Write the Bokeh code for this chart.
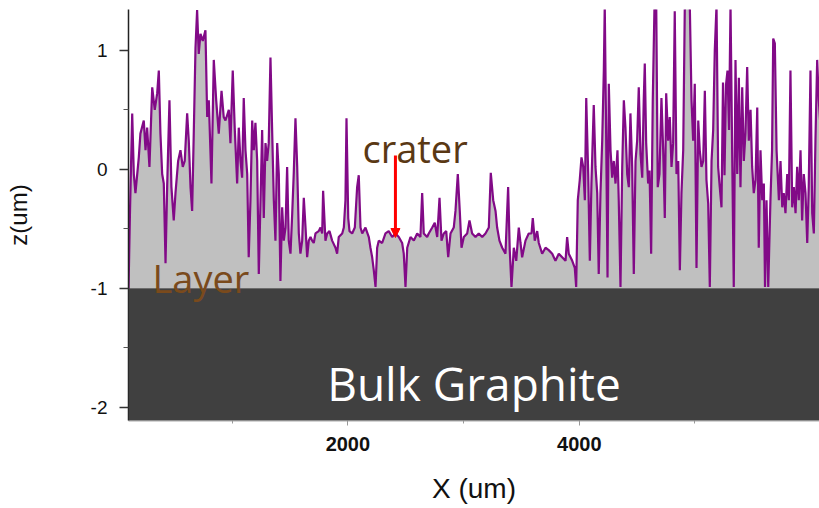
from bokeh.plotting import figure
from bokeh.models import (BoxAnnotation, Label, Arrow, NormalHead, FixedTicker,
                          Range1d, ColumnDataSource)
from bokeh.embed import file_html
from bokeh.resources import INLINE

# Surface profile along the scan: position (um) and height z (um)
x_um = [
    104, 117, 136, 150, 164, 193, 207, 236, 251, 265,
    285, 309, 331, 352, 366, 380, 395, 409, 424, 438,
    458, 475, 495, 510, 533, 553, 573, 590, 611, 625,
    640, 654, 668, 683, 697, 711, 726, 746, 769, 784,
    798, 821, 841, 862, 884, 908, 927, 942, 971, 985,
    1005, 1022, 1043, 1057, 1072, 1086, 1100, 1115, 1130, 1143,
    1158, 1173, 1187, 1201, 1216, 1230, 1245, 1259, 1273, 1288,
    1302, 1316, 1331, 1346, 1360, 1374, 1389, 1403, 1417, 1432,
    1446, 1461, 1475, 1489, 1504, 1519, 1532, 1547, 1562, 1576,
    1590, 1605, 1619, 1634, 1648, 1662, 1677, 1691, 1705, 1720,
    1748, 1763, 1778, 1786, 1806, 1821, 1841, 1864, 1893, 1907,
    1921, 1951, 1965, 1979, 1988, 2003, 2014, 2037, 2060, 2080,
    2094, 2109, 2124, 2152, 2181, 2195, 2210, 2224, 2239, 2253,
    2267, 2296, 2325, 2353, 2383, 2411, 2440, 2469, 2483, 2498,
    2513, 2541, 2570, 2599, 2627, 2642, 2656, 2685, 2699, 2729,
    2751, 2772, 2792, 2809, 2829, 2850, 2867, 2887, 2915, 2930,
    2950, 2967, 2982, 3002, 3031, 3051, 3074, 3103, 3131, 3161,
    3189, 3218, 3235, 3256, 3276, 3290, 3310, 3334, 3362, 3385,
    3399, 3414, 3434, 3455, 3477, 3492, 3506, 3535, 3563, 3587,
    3598, 3615, 3636, 3650, 3679, 3708, 3736, 3766, 3794, 3823,
    3852, 3881, 3895, 3909, 3939, 3961, 3973, 3987, 4004, 4019,
    4034, 4048, 4060, 4077, 4091, 4105, 4125, 4140, 4155, 4168,
    4183, 4198, 4212, 4220, 4232, 4244, 4255, 4270, 4284, 4298,
    4313, 4330, 4341, 4356, 4371, 4385, 4399, 4414, 4428, 4442,
    4457, 4471, 4486, 4500, 4514, 4529, 4544, 4557, 4566, 4578,
    4595, 4607, 4621, 4635, 4650, 4665, 4678, 4693, 4710, 4725,
    4739, 4751, 4768, 4782, 4797, 4811, 4825, 4840, 4855, 4869,
    4883, 4898, 4912, 4926, 4941, 4955, 4970, 4984, 4998, 5013,
    5028, 5041, 5056, 5071, 5085, 5099, 5114, 5128, 5143, 5157,
    5171, 5186, 5200, 5214, 5229, 5242, 5255, 5268, 5281, 5294,
    5307, 5321, 5335, 5350, 5365, 5379, 5393, 5408, 5422, 5436,
    5451, 5465, 5480, 5494, 5508, 5523, 5538, 5551, 5566, 5581,
    5595, 5605, 5618, 5633, 5652, 5666, 5676, 5690, 5705, 5725,
    5739, 5754, 5767, 5782, 5797, 5811, 5825, 5840, 5854, 5869,
    5883, 5897, 5912, 5926, 5940, 5955, 5970, 5983, 5998, 6013,
    6027, 6041, 6056, 6070, 6085,
]
z_um = [
    -1.02, -0.35, 0.47, -0.04, -0.20, 0.10, 0.30, 0.41, 0.16, 0.35,
    0.02, 0.69, 0.50, 0.64, 0.83, 0.30, -0.04, -0.12, -0.79, -0.15,
    0.58, -0.15, -0.43, -0.20, 0.07, 0.16, 0.02, 0.07, 0.47, 0.24,
    -0.15, -0.35, 0.30, 1.02, 1.34, 0.97, 1.14, 1.08, 1.17, 0.44,
    0.58, -0.12, 0.92, 0.58, 0.30, 0.66, 0.44, 0.41, 0.50, 0.22,
    0.83, 0.35, -0.12, 0.35, 0.07, -0.07, 0.60, 0.16, -0.04, -0.74,
    -0.26, 0.41, 0.16, 0.39, 0.07, -0.88, -0.26, 0.33, -0.41, 0.22,
    0.07, 0.22, 0.94, 0.30, -0.26, -0.60, 0.22, -0.04, -0.94, -0.32,
    -0.60, -0.49, 0.02, -0.60, -0.71, -0.37, -0.04, 0.43, 0.02, -0.54,
    -0.71, -0.60, -0.24, -0.49, -0.74, -0.60, -0.57, -0.60, -0.62, -0.54,
    -0.52, -0.49, -0.54, -0.18, -0.60, -0.54, -0.52, -0.60, -0.66, -0.71,
    -0.57, -0.54, -0.49, -0.26, 0.43, -0.41, -0.52, -0.54, -0.49, -0.15,
    -0.05, -0.49, -0.54, -0.49, -0.57, -0.66, -0.74, -0.85, -0.99, -0.66,
    -0.60, -0.62, -0.54, -0.52, -0.57, -0.54, -0.57, -0.62, -0.71, -0.99,
    -0.66, -0.57, -0.60, -0.54, -0.57, -0.20, -0.54, -0.57, -0.54, -0.49,
    -0.45, -0.57, -0.24, -0.60, -0.54, -0.52, -0.74, -0.54, -0.49, -0.35,
    -0.04, -0.35, -0.66, -0.57, -0.54, -0.43, -0.54, -0.57, -0.54, -0.57,
    -0.54, -0.49, -0.03, -0.26, -0.35, -0.49, -0.60, -0.66, -0.71, -0.15,
    -0.68, -0.99, -0.66, -0.77, -0.49, -0.62, -0.74, -0.60, -0.54, -0.54,
    -0.41, -0.60, -0.52, -0.62, -0.71, -0.66, -0.68, -0.71, -0.77, -0.71,
    -0.74, -0.77, -0.57, -0.71, -0.77, -0.83, -0.99, -0.26, -0.09, 0.10,
    0.02, -0.26, 0.60, -0.04, -0.77, -0.12, 0.54, 0.02, -0.20, -0.88,
    -0.20, 0.24, 0.83, 1.38, 0.30, -0.91, 0.72, 0.16, -0.07, 0.07,
    -0.12, 0.16, -0.26, -0.99, 0.02, 0.58, 0.35, -0.04, -0.15, 0.47,
    0.02, -0.88, 0.07, 0.24, 0.69, 0.13, -0.07, 0.58, 0.89, 0.22,
    -0.12, -0.01, -0.71, 0.58, 1.38, 1.38, -0.15, -0.04, 0.60, 0.16,
    -0.41, 0.64, 0.24, 0.44, 0.02, 0.22, 1.33, -0.04, 0.07, -0.85,
    -0.20, 0.16, 1.38, 1.38, 1.38, 1.38, 0.58, 0.24, 0.72, -0.83,
    0.41, 0.16, 0.02, 0.07, 0.66, -0.09, -0.29, -0.99, 0.07, 0.33,
    1.00, 1.38, 0.02, -0.15, -0.32, 0.73, -0.05, 0.71, 0.83, 0.33,
    1.38, 0.16, -0.99, 0.92, -0.04, 0.77, -0.15, 0.69, 0.07, 0.30,
    0.86, 0.24, 0.50, 0.02, -0.20, -0.09, 0.52, -0.66, 0.16, -0.26,
    -0.12, -0.99, -0.26, -0.99, -0.26, 0.16, 1.10, 1.06, 0.16, -0.26,
    0.07, -0.32, -0.20, -0.37, -0.04, -0.26, 0.83, -0.32, -0.15, -0.37,
    0.02, -0.26, 0.16, -0.43, -0.04, -0.20, -0.62, -0.15, 0.83, -0.37,
    -0.54, 0.24, 0.92, 0.58, 0.35,
]

# Axis ticks
x_major = [2000, 4000]
x_minor = [1000, 3000, 5000]
z_major = [-2, -1, 0, 1]
z_minor = [-1.5, -0.5, 0.5]
z_labels = {-2: "-2", -1: "-1", 0: "0", 1: "1"}

# Top of the bulk graphite / base of the deposited layer
layer_floor = -1.0
crater_x = 2411
crater_top, crater_tip = 0.116, -0.574

p = figure(width=819, height=508, output_backend="svg", toolbar_location=None,
           x_range=Range1d(104, 6076), y_range=Range1d(-2.113, 1.344),
           min_border_left=128, min_border_right=0, min_border_top=9,
           min_border_bottom=88, background_fill_color="white",
           border_fill_color="white")
p.outline_line_color = None
p.grid.visible = False

src = ColumnDataSource(dict(x=x_um, z=z_um, base=[layer_floor] * len(x_um)))
p.varea(x="x", y1="base", y2="z", source=src, fill_color="#c0c0c0")
p.line("x", "z", source=src, line_color="#820a87", line_width=2.2)

# Bulk graphite block below the layer
p.add_layout(BoxAnnotation(top=layer_floor, fill_color="#404040", fill_alpha=1.0,
                           line_color=None))

p.add_layout(Label(x=3090, y=-1.80, text="Bulk Graphite", text_align="center",
                   text_baseline="alphabetic", text_font="Open Sans",
                   text_font_size="46px", text_color="white"))
p.add_layout(Label(x=311, y=-0.918, text="Layer", text_baseline="alphabetic",
                   text_font="Open Sans", text_font_size="38px",
                   text_color="#7a4a1c"))
p.add_layout(Label(x=2126, y=0.183, text="crater", text_baseline="alphabetic",
                   text_font="Open Sans", text_font_size="38px",
                   text_color="#5a3814"))
p.add_layout(Arrow(end=NormalHead(size=9, line_color="red", fill_color="red"),
                   x_start=crater_x, y_start=crater_top, x_end=crater_x,
                   y_end=crater_tip, line_color="red", line_width=3))

# Axes
xa = p.xaxis[0]
xa.ticker = FixedTicker(ticks=x_major, minor_ticks=x_minor)
xa.axis_label = "X (um)"
xa.axis_label_text_font = "Liberation Sans"
xa.axis_label_text_font_size = "28px"
xa.axis_label_text_font_style = "normal"
xa.axis_label_text_color = "#111111"
xa.axis_label_standoff = 19
xa.major_label_text_font = "Liberation Sans"
xa.major_label_text_font_size = "20px"
xa.major_label_text_font_style = "bold"
xa.major_label_text_color = "#111111"
xa.major_label_standoff = 11
xa.axis_line_color = "#aaaaaa"
xa.axis_line_width = 2
xa.major_tick_line_color = "#999999"
xa.minor_tick_line_color = "#999999"
xa.major_tick_out = 5
xa.major_tick_in = 0
xa.minor_tick_out = 3
xa.minor_tick_in = 0

ya = p.yaxis[0]
ya.ticker = FixedTicker(ticks=z_major, minor_ticks=z_minor)
ya.major_label_overrides = z_labels
ya.axis_label = "z(um)"
ya.axis_label_text_font = "Liberation Sans"
ya.axis_label_text_font_size = "24px"
ya.axis_label_text_font_style = "normal"
ya.axis_label_text_color = "#111111"
ya.axis_label_standoff = 56
ya.major_label_text_font = "Liberation Sans"
ya.major_label_text_font_size = "19px"
ya.major_label_text_color = "#111111"
ya.major_label_standoff = 12
ya.axis_line_color = "#222222"
ya.axis_line_width = 1.5
ya.major_tick_line_color = "#333333"
ya.minor_tick_line_color = "#555555"
ya.major_tick_line_width = 1.5
ya.major_tick_out = 9
ya.major_tick_in = 0
ya.minor_tick_out = 5
ya.minor_tick_in = 0

open("out.html", "w").write(file_html(p, INLINE))
